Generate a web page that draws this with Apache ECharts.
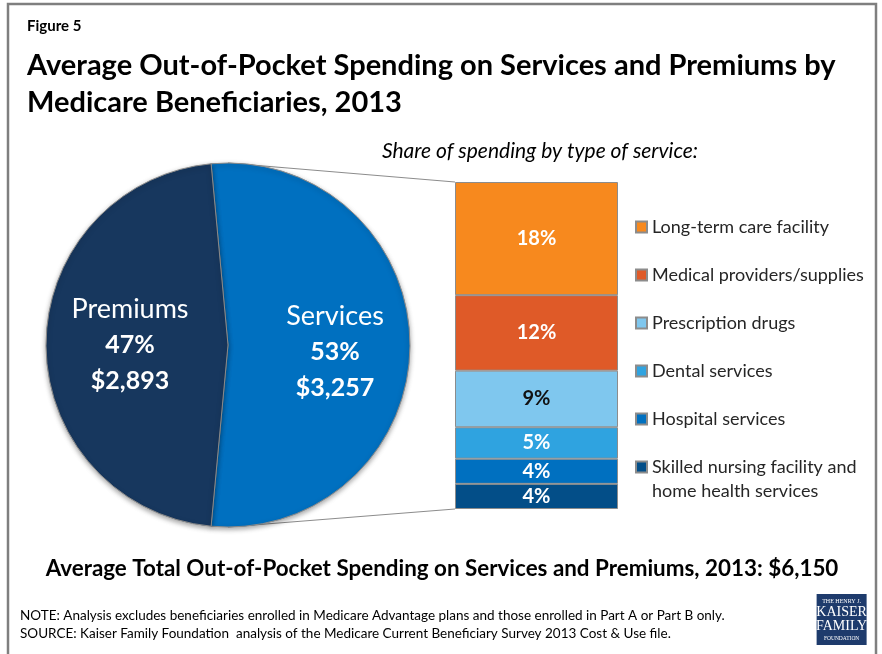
<!DOCTYPE html>
<html>
<head>
<meta charset="utf-8">
<script src="https://cdn.jsdelivr.net/npm/echarts@6/dist/echarts.min.js"></script>
<style>
  html, body { margin: 0; padding: 0; background: #ffffff; }
  #chart { width: 882px; height: 654px; }
</style>
</head>
<body>
<div id="chart"></div>
<script>
// Out-of-pocket spending split between services and premiums (dollars)
const spendingGroups = ['Services', 'Premiums'];
const spendingDollars = [3257, 2893];
const totalSpending = 6150;

// Share of total spending by type of service (percent), top of the stack first
const serviceTypes = [
  'Long-term care facility',
  'Medical providers/supplies',
  'Prescription drugs',
  'Dental services',
  'Hospital services',
  'Skilled nursing facility and home health services'
];
const serviceShares = [18, 12, 9, 5, 4, 4];

// Styling
const FONT = 'Lato, "Open Sans", sans-serif';
const groupColors = ['#0070C0', '#17375E'];
const serviceColors = ['#F7891E', '#DF5A28', '#7FC7EE', '#2FA3E0', '#0070C0', '#034E88'];
const serviceLabelColors = ['#ffffff', '#ffffff', '#111111', '#ffffff', '#ffffff', '#ffffff'];
const PIE_CENTER = [228, 345];
const PIE_RADIUS = 182;

const chart = echarts.init(document.getElementById('chart'), null, { renderer: 'canvas' });

// Rotate the pie so the services slice sits symmetric about the horizontal axis
const servicesAngle = spendingDollars[0] / spendingDollars.reduce((a, b) => a + b, 0) * 360;
const pieStart = 90 + (servicesAngle - 180) / 2;

const stackTotal = serviceShares.reduce((a, b) => a + b, 0);

// Stacked bar series, bottom segment first
const barSeries = serviceTypes.map((name, i) => ({
  type: 'bar',
  name: name,
  stack: 'services',
  xAxisIndex: 0,
  yAxisIndex: 0,
  barWidth: '100%',
  data: [serviceShares[i]],
  itemStyle: { color: serviceColors[i], borderColor: '#8c8c8c', borderWidth: 1 },
  label: {
    show: true,
    position: 'inside',
    formatter: '{c}%',
    fontFamily: FONT,
    fontWeight: 'bold',
    fontSize: 20,
    color: serviceLabelColors[i]
  },
  emphasis: { disabled: true }
})).reverse();

const lastType = serviceTypes[serviceTypes.length - 1];
// Two-line legend entry; the leading blank line keeps the marker beside the first text line
const legendText = name => '\u00a0\n' + name.replace(' and ', ' and\n');

const legendBase = {
  orient: 'vertical',
  left: 635,
  padding: 0,
  icon: 'rect',
  itemWidth: 11,
  itemHeight: 11,
  itemGap: 24,
  textStyle: { fontFamily: FONT, fontSize: 18, color: '#262626', lineHeight: 24 },
  selectedMode: false
};

const option = {
  backgroundColor: '#ffffff',
  animation: false,
  title: [
    { text: 'Figure 5', left: 27, top: 19, padding: 0,
      textStyle: { fontFamily: FONT, fontSize: 15, fontWeight: 'bold', color: '#000' } },
    { text: 'Average Out-of-Pocket Spending on Services and Premiums by\nMedicare Beneficiaries, 2013',
      left: 27, top: 47, padding: 0,
      textStyle: { fontFamily: FONT, fontSize: 29, fontWeight: 'bold', color: '#000', lineHeight: 37 } },
    { text: 'Share of spending by type of service:', left: 540, top: 141, padding: 0, textAlign: 'center',
      textStyle: { fontFamily: FONT, fontSize: 21, fontStyle: 'italic', fontWeight: 'normal', color: '#000' } },
    { text: 'Average Total Out-of-Pocket Spending on Services and Premiums, 2013: $' + totalSpending.toLocaleString('en-US'),
      left: 442, top: 558, padding: 0, textAlign: 'center',
      textStyle: { fontFamily: FONT, fontSize: 22.4, fontWeight: 'bold', color: '#000' } },
    { text: 'NOTE: Analysis excludes beneficiaries enrolled in Medicare Advantage plans and those enrolled in Part A or Part B only.\nSOURCE: Kaiser Family Foundation  analysis of the Medicare Current Beneficiary Survey 2013 Cost & Use file.',
      left: 20, top: 607, padding: 0,
      textStyle: { fontFamily: FONT, fontSize: 13.5, fontWeight: 'normal', color: '#000', lineHeight: 18 } }
  ],
  legend: [
    Object.assign({}, legendBase, {
      top: 215,
      data: serviceTypes.slice(0, serviceTypes.length - 1)
    }),
    Object.assign({}, legendBase, {
      top: 431,
      data: [lastType],
      formatter: legendText
    })
  ],
  grid: { left: 455, top: 182, width: 163, height: 327 },
  xAxis: { type: 'category', data: ['Services'], show: false },
  yAxis: { type: 'value', min: 0, max: stackTotal, show: false },
  series: [
    {
      type: 'pie',
      center: PIE_CENTER,
      radius: PIE_RADIUS,
      startAngle: pieStart,
      clockwise: true,
      silent: true,
      data: spendingGroups.map((name, i) => ({
        name: name,
        value: spendingDollars[i],
        itemStyle: { color: groupColors[i] }
      })),
      itemStyle: {
        borderColor: '#8a8a8a',
        borderWidth: 1,
        shadowBlur: 5,
        shadowOffsetY: 2,
        shadowColor: 'rgba(0,0,0,0.35)'
      },
      label: {
        show: true,
        position: 'inside',
        color: '#ffffff',
        fontFamily: FONT,
        formatter: p => '{n|' + p.name + '}\n{p|' + Math.round(p.percent) + '%}\n{v|$' + p.value.toLocaleString('en-US') + '}',
        rich: {
          n: { fontFamily: FONT, fontSize: 27, color: '#fff', lineHeight: 36 },
          p: { fontFamily: FONT, fontSize: 25, fontWeight: 'bold', color: '#fff', lineHeight: 36 },
          v: { fontFamily: FONT, fontSize: 25, fontWeight: 'bold', color: '#fff', lineHeight: 36 }
        }
      },
      labelLine: { show: false },
      labelLayout: p => (p.dataIndex === 0 ? { dx: 6.5, dy: 3.5 } : { dx: -2, dy: 0 })
    }
  ].concat(barSeries),
  graphic: []
};

chart.setOption(option);

// Connector lines from the pie's top and bottom to the stacked bar's corners,
// plus the frame and the foundation badge.
const gridRect = chart.getModel().getComponent('grid', 0).coordinateSystem.getRect();
const barTop = chart.convertToPixel({ xAxisIndex: 0, yAxisIndex: 0 }, [0, stackTotal]);
const barBottom = chart.convertToPixel({ xAxisIndex: 0, yAxisIndex: 0 }, [0, 0]);

chart.setOption({
  graphic: [
    {
      type: 'rect', z: 100, silent: true,
      shape: { x: 8, y: 4, width: 868, height: 680 },
      style: { fill: 'none', stroke: '#7f7f7f', lineWidth: 2.5 }
    },
    {
      type: 'line', z: 1, silent: true,
      shape: { x1: PIE_CENTER[0], y1: PIE_CENTER[1] - PIE_RADIUS, x2: gridRect.x, y2: barTop[1] },
      style: { stroke: '#8c8c8c', lineWidth: 1 }
    },
    {
      type: 'line', z: 1, silent: true,
      shape: { x1: PIE_CENTER[0], y1: PIE_CENTER[1] + PIE_RADIUS, x2: gridRect.x, y2: barBottom[1] },
      style: { stroke: '#8c8c8c', lineWidth: 1 }
    },
    {
      type: 'group', left: 816, top: 594, silent: true,
      children: [
        { type: 'rect', shape: { x: 0, y: 0, width: 50, height: 51 }, style: { fill: '#1E3B6C' } },
        { type: 'text', x: 25, y: 7, style: { text: 'THE HENRY J.', fill: '#fff', font: '6px "Liberation Serif", serif', align: 'center', verticalAlign: 'middle' } },
        { type: 'text', x: 25, y: 18, style: { text: 'KAISER', fill: '#fff', font: '14px "Liberation Serif", serif', align: 'center', verticalAlign: 'middle' } },
        { type: 'text', x: 25, y: 32, style: { text: 'FAMILY', fill: '#fff', font: '14px "Liberation Serif", serif', align: 'center', verticalAlign: 'middle' } },
        { type: 'text', x: 25, y: 45, style: { text: 'FOUNDATION', fill: '#fff', font: '5.5px "Liberation Serif", serif', align: 'center', verticalAlign: 'middle' } }
      ]
    }
  ]
});
</script>
</body>
</html>
